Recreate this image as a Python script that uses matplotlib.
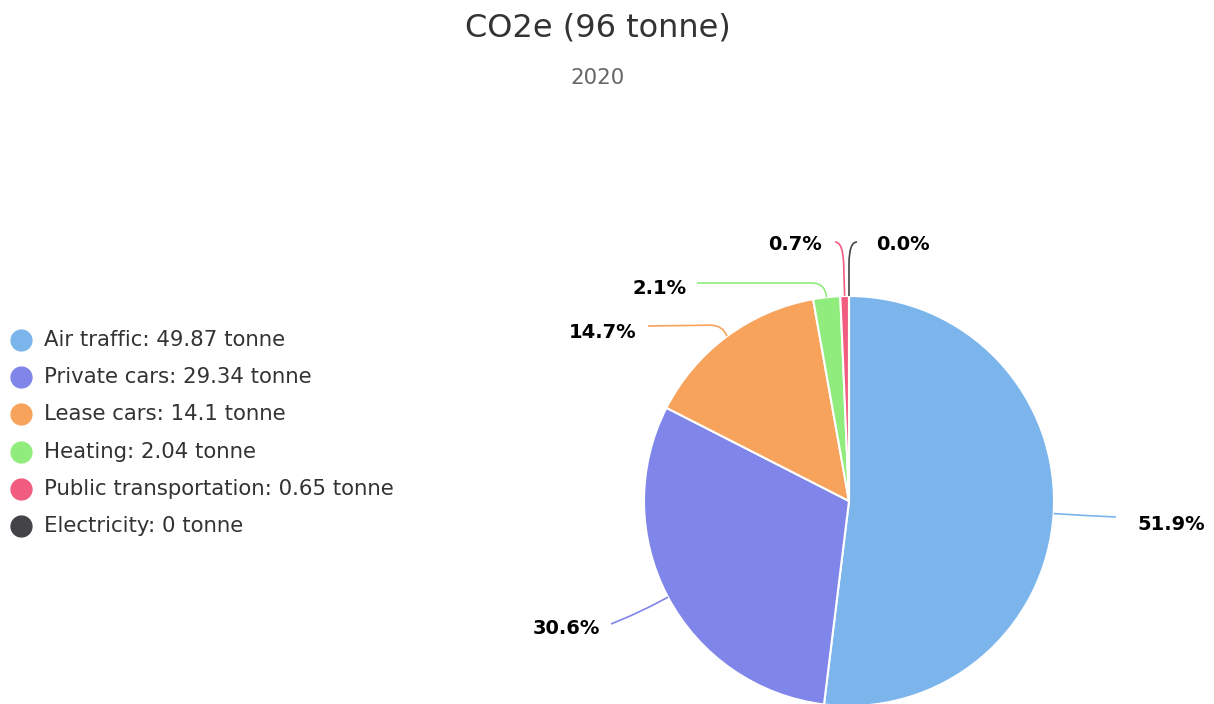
import matplotlib
matplotlib.use("Agg")
import matplotlib.pyplot as plt
import numpy as np
from matplotlib.path import Path
from matplotlib.patches import PathPatch

# ---- data ----
categories = ["Air traffic", "Private cars", "Lease cars", "Heating",
              "Public transportation", "Electricity"]
values = [49.87, 29.34, 14.1, 2.04, 0.65, 0.0]
value_labels = ["49.87", "29.34", "14.1", "2.04", "0.65", "0"]
title = "CO2e (96 tonne)"
subtitle = "2020"
unit = "tonne"

# ---- style ----
colors = ["#7cb5ec", "#8085e9", "#f7a35c", "#90ed7d", "#f15c80", "#434348"]
W, H = 1214, 704
CX, CY, R = 849, 501, 205  # pie centre / radius in pixels

fig = plt.figure(figsize=(W / 100, H / 100), dpi=100)
ax = fig.add_axes([0, 0, 1, 1])


def px(x, y):
    """pixel -> data coords of the pie axes"""
    return np.array([(x - CX) / R, (CY - y) / R])


wedges, _ = ax.pie(values, colors=colors, startangle=90, counterclock=False,
                   radius=1.0, center=(0, 0),
                   wedgeprops=dict(edgecolor="white", linewidth=1.5))
ax.set_xlim((0 - CX) / R, (W - CX) / R)
ax.set_ylim((CY - H) / R, (CY - 0) / R)
ax.set_aspect("auto")
ax.axis("off")

# ---- data labels with connectors ----
total = sum(values)
fracs = [v / total for v in values]
cum = np.concatenate([[0], np.cumsum(fracs)[:-1]])
mids = [np.deg2rad(90 - 360 * (c + f / 2)) for c, f in zip(cum, fracs)]

# layout: (elbow px, end px, label anchor px, ha, corner radius px)
layout = [
    ((1085, 515.5), (1116, 517), (1137, 524), "left", 1),
    ((640, 612), (611, 624), (600, 628), "right", 20),
    ((723, 325), (648, 326), (636, 332), "right", 13),
    ((824.5, 283), (697, 283), (687, 289), "right", 13),
    ((843, 242), (835, 242), (822, 245), "right", 22),
    ((849, 242), (857, 242), (876, 245), "left", 22),
]

for i, (f, m) in enumerate(zip(fracs, mids)):
    s = np.array([np.cos(m), np.sin(m)])
    (ex, ey), (tx, ty), (lx, ly), ha, rad = layout[i]
    e = px(ex, ey)
    t = px(tx, ty)
    r = rad / R
    da = s - e
    db = t - e
    pa = e + da / max(np.linalg.norm(da), 1e-9) * min(r, np.linalg.norm(da))
    pb = e + db / max(np.linalg.norm(db), 1e-9) * min(r, np.linalg.norm(db))
    verts = [s, pa, e, pb, t]
    codes = [Path.MOVETO, Path.LINETO, Path.CURVE3, Path.CURVE3, Path.LINETO]
    ax.add_patch(PathPatch(Path(verts, codes), fill=False,
                           edgecolor=colors[i], linewidth=1.2))
    lxd, lyd = px(lx, ly)
    ax.text(lxd, lyd, f"{f * 100:.1f}%", ha=ha, va="center",
            fontsize=14, fontweight="bold", color="#000000")

# ---- title ----
fig.text(598 / W, 1 - 28 / H, title, ha="center", va="center",
         fontsize=23, color="#333333")
fig.text(598 / W, 1 - 78 / H, subtitle, ha="center", va="center",
         fontsize=15.4, color="#666666")

# ---- legend ----
row0, dy = 340, 37.2
for i, (cat, vl) in enumerate(zip(categories, value_labels)):
    y = row0 + i * dy
    ax.plot(*px(21, y), marker="o", markersize=15, color=colors[i],
            linestyle="none", clip_on=False)
    fig.text(44 / W, 1 - y / H, f"{cat}: {vl} {unit}", ha="left",
             va="center", fontsize=15.3, color="#333333")

fig.savefig("out.png", dpi=100)
